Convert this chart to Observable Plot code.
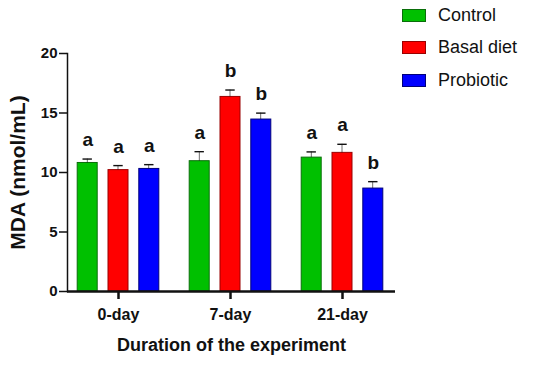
<!DOCTYPE html>
<html>
<head>
<meta charset="utf-8">
<script src="https://cdn.jsdelivr.net/npm/d3@7"></script>
<script src="https://cdn.jsdelivr.net/npm/@observablehq/plot@0.6"></script>
<style>
  html, body { margin: 0; padding: 0; background: #fff; }
  #wrap { position: relative; width: 550px; height: 369px; font-family: "Liberation Sans", Arial, sans-serif; }
  #legend { position: absolute; left: 402px; top: 0; }
  .item { position: absolute; left: 0; display: flex; align-items: center; white-space: nowrap; font-size: 18px; color: #111; }
  .sw { width: 22px; height: 11px; border: 1px solid; margin-right: 12px; }
</style>
</head>
<body>
<div id="wrap"><div id="legend"></div></div>
<script>
const days = ["0-day", "7-day", "21-day"];
const groups = ["Control", "Basal diet", "Probiotic"];
const colors = ["#00c000", "#ff0000", "#0000ff"];
const strokes = ["#0a6e0a", "#9a0000", "#00007a"];

const controlMean = [10.8, 10.95, 11.25];
const basalMean = [10.2, 16.35, 11.65];
const probioticMean = [10.3, 14.45, 8.65];

const controlErr = [0.33, 0.8, 0.48];
const basalErr = [0.38, 0.58, 0.72];
const probioticErr = [0.36, 0.54, 0.58];

const controlLetters = ["a", "a", "a"];
const basalLetters = ["a", "b", "a"];
const probioticLetters = ["a", "b", "b"];

const yTicks = [0, 5, 10, 15, 20];

const meanBy = [controlMean, basalMean, probioticMean];
const errBy = [controlErr, basalErr, probioticErr];
const letterBy = [controlLetters, basalLetters, probioticLetters];

const rows = [];
groups.forEach((g, gi) => days.forEach((d, di) => rows.push({
  day: d, group: g, gi, mean: meanBy[gi][di], err: errBy[gi][di], top: meanBy[gi][di] + errBy[gi][di], letter: letterBy[gi][di]
})));

const offsets = [-30.8, 0, 30.8];
const font = "Liberation Sans, Arial, sans-serif";

const marks = [];
groups.forEach((g, gi) => {
  const data = rows.filter(r => r.gi === gi);
  marks.push(Plot.barY(data, {x: "day", y: "mean", dx: offsets[gi], insetLeft: 46, insetRight: 46, fill: colors[gi], stroke: strokes[gi], strokeWidth: 1}));
  marks.push(Plot.barY(data, {x: "day", y1: "mean", y2: "top", dx: offsets[gi], insetLeft: 55.7, insetRight: 55.7, fill: "#111"}));
  marks.push(Plot.tickY(data, {x: "day", y: "top", dx: offsets[gi], insetLeft: 51.3, insetRight: 51.3, stroke: "#111", strokeWidth: 1.4}));
  marks.push(Plot.text(data, {x: "day", y: "top", text: "letter", dx: offsets[gi], dy: -19, fontSize: 19, fontWeight: "bold", fill: "#111"}));
});

const chart = Plot.plot({
  width: 550,
  height: 369,
  marginLeft: 67,
  marginRight: 155,
  marginTop: 53,
  marginBottom: 78,
  style: {fontFamily: font, background: "#fff", color: "#111"},
  x: {type: "band", domain: days, range: [61, 399.4], padding: 0},
  y: {domain: [0, 20], ticks: yTicks},
  marks: [
    ...marks,
    Plot.axisY({ticks: yTicks, tickSize: 8, tickPadding: 2, fontSize: 15, fontWeight: "bold", label: null, strokeWidth: 1.5}),
    Plot.axisX({tickSize: 8, tickPadding: 9, fontSize: 16, fontWeight: "bold", label: null, strokeWidth: 2.5}),
    Plot.frame({anchor: "left", strokeWidth: 1.5, stroke: "#111"}),
    Plot.ruleY([0], {strokeWidth: 2.5, stroke: "#111"}),
    Plot.text(["MDA (nmol/mL)"], {frameAnchor: "left", textAnchor: "middle", rotate: -90, dx: -49, fontSize: 21, fontWeight: "bold", fill: "#111"}),
    Plot.text(["Duration of the experiment"], {frameAnchor: "bottom", dy: 59, fontSize: 18, fontWeight: "bold", fill: "#111"})
  ]
});

const wrap = document.getElementById("wrap");
wrap.insertBefore(chart, wrap.firstChild);

const legend = document.getElementById("legend");
const rowCenters = [15.7, 47.7, 80];
groups.forEach((g, i) => {
  const it = document.createElement("div");
  it.className = "item";
  it.style.top = (rowCenters[i] - 12) + "px";
  it.style.height = "24px";
  const sw = document.createElement("div");
  sw.className = "sw";
  sw.style.background = colors[i];
  sw.style.borderColor = strokes[i];
  const t = document.createElement("span");
  t.textContent = g;
  it.appendChild(sw);
  it.appendChild(t);
  legend.appendChild(it);
});
</script>
</body>
</html>
